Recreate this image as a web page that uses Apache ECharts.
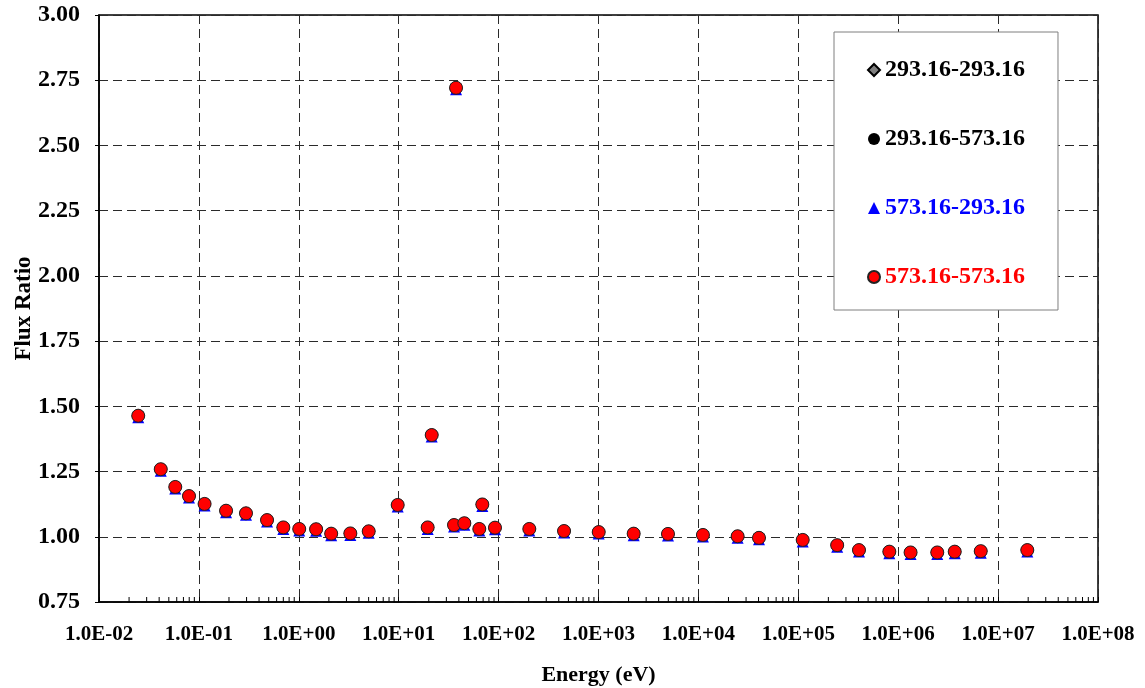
<!DOCTYPE html>
<html>
<head>
<meta charset="utf-8">
<title>Flux Ratio vs Energy</title>
<script src="https://cdn.jsdelivr.net/npm/echarts@6/dist/echarts.min.js"></script>
<style>
  html, body { margin: 0; padding: 0; background: #fff; }
  #chart { width: 1145px; height: 688px; }
</style>
</head>
<body>
<div id="chart"></div>
<script>
// Neutron energy points (eV)
const energy = [
  0.0247, 0.0415, 0.058, 0.0796, 0.114, 0.187, 0.296, 0.481, 0.70, 1.01,
  1.49, 2.11, 3.28, 5.01, 9.77, 19.5, 21.4, 35.8, 37.5, 45.4,
  64.1, 68.7, 92, 203, 452, 1005, 2250, 4960, 11100, 24700,
  40400, 110700, 245000, 405000, 815000, 1.33e6, 2.46e6, 3.68e6, 6.70e6, 1.96e7
];

// Flux ratio for each temperature combination (the four sets coincide at this scale)
const ratio_293_293 = [
  1.464, 1.259, 1.191, 1.156, 1.126, 1.100, 1.090, 1.064, 1.036, 1.030,
  1.029, 1.012, 1.013, 1.021, 1.122, 1.036, 1.390, 1.045, 2.721, 1.052,
  1.030, 1.124, 1.035, 1.030, 1.022, 1.018, 1.012, 1.011, 1.007, 1.002,
  0.996, 0.988, 0.968, 0.949, 0.943, 0.940, 0.940, 0.943, 0.945, 0.949
];
const ratio_293_573 = ratio_293_293.slice();
const ratio_573_293 = ratio_293_293.slice();
const ratio_573_573 = ratio_293_293.slice();

const seriesNames = ['293.16-293.16', '293.16-573.16', '573.16-293.16', '573.16-573.16'];

// Minor tick mantissas within each decade of the energy axis
const minorMantissas = [2, 3, 4, 5, 6, 7, 8, 9];
const decadeExponents = [-2, -1, 0, 1, 2, 3, 4, 5, 6, 7];

const FONT = '"Liberation Serif", "Times New Roman", serif';

function pairs(xs, ys) {
  return xs.map((x, i) => [x, ys[i]]);
}

const minorTicks = [];
decadeExponents.forEach(e => minorMantissas.forEach(m => minorTicks.push([m * Math.pow(10, e), 0.75])));

function sciLabel(v) {
  const e = Math.round(Math.log10(v));
  const a = Math.abs(e);
  return '1.0E' + (e < 0 ? '-' : '+') + (a < 10 ? '0' + a : String(a));
}

const chart = echarts.init(document.getElementById('chart'), null, { renderer: 'canvas' });

const option = {
  backgroundColor: '#ffffff',
  animation: false,
  textStyle: { fontFamily: FONT },
  grid: {
    left: 99, right: 47, top: 15, bottom: 86,
    outerBoundsMode: 'none',
    containLabel: false,
    show: true, borderColor: '#000', borderWidth: 1.5, backgroundColor: 'transparent'
  },
  xAxis: {
    type: 'log',
    logBase: 10,
    min: 0.01,
    max: 1e8,
    interval: 1,
    name: 'Energy (eV)',
    nameLocation: 'middle',
    nameGap: 62,
    nameMoveOverlap: false,
    nameTextStyle: { fontFamily: FONT, fontWeight: 'bold', fontSize: 22, color: '#000' },
    axisLine: { show: true, lineStyle: { color: '#000', width: 1.5 } },
    axisTick: { show: true, inside: true, length: 5, lineStyle: { color: '#000', width: 1 } },
    axisLabel: {
      formatter: sciLabel,
      fontFamily: FONT, fontWeight: 'bold', fontSize: 21, color: '#000', margin: 22
    },
    splitLine: { show: true, lineStyle: { color: '#2a2a2a', type: [9, 5], width: 1 } }
  },
  yAxis: {
    type: 'value',
    min: 0.75,
    max: 3.0,
    interval: 0.25,
    name: 'Flux Ratio',
    nameLocation: 'middle',
    nameGap: 63,
    nameRotate: 90,
    nameMoveOverlap: false,
    nameTextStyle: { fontFamily: FONT, fontWeight: 'bold', fontSize: 23, color: '#000' },
    axisLine: { show: true, lineStyle: { color: '#000', width: 1.5 } },
    axisTick: { show: true, inside: false, length: 4, lineStyle: { color: '#000', width: 1 } },
    axisLabel: {
      formatter: v => v.toFixed(2),
      fontFamily: FONT, fontWeight: 'bold', fontSize: 24, color: '#000', margin: 19
    },
    splitLine: { show: true, lineStyle: { color: '#2a2a2a', type: [9, 5], width: 1 } }
  },
  legend: {
    orient: 'vertical',
    left: 834,
    top: 32,
    padding: [26, 33, 21, 33],
    itemGap: 45,
    itemWidth: 12,
    itemHeight: 12,
    backgroundColor: '#fff',
    borderColor: '#7f7f7f',
    borderWidth: 1,
    textStyle: { fontFamily: FONT, fontWeight: 'bold', fontSize: 24 },
    data: [
      { name: seriesNames[0], icon: 'diamond', textStyle: { color: '#000' } },
      { name: seriesNames[1], icon: 'circle', textStyle: { color: '#000' } },
      { name: seriesNames[2], icon: 'triangle', textStyle: { color: '#0000ff' } },
      { name: seriesNames[3], icon: 'circle', textStyle: { color: '#ff0000' } }
    ]
  },
  series: [
    {
      name: seriesNames[0],
      type: 'scatter',
      symbol: 'diamond',
      symbolSize: 12,
      itemStyle: { color: '#808080', borderColor: '#000', borderWidth: 1, opacity: 1 },
      data: pairs(energy, ratio_293_293)
    },
    {
      name: seriesNames[1],
      type: 'scatter',
      symbol: 'circle',
      symbolSize: 13,
      itemStyle: { color: '#000', opacity: 1 },
      data: pairs(energy, ratio_293_573)
    },
    {
      name: seriesNames[2],
      type: 'scatter',
      symbol: 'triangle',
      symbolSize: 12,
      symbolOffset: [0, 1.5],
      itemStyle: { color: '#0000ff', opacity: 1 },
      data: pairs(energy, ratio_573_293)
    },
    {
      name: seriesNames[3],
      type: 'scatter',
      symbol: 'circle',
      symbolSize: 13,
      itemStyle: { color: '#ff0000', borderColor: '#222', borderWidth: 1, opacity: 1 },
      data: pairs(energy, ratio_573_573)
    },
    {
      // minor ticks along the energy axis (2..9 within each decade)
      name: 'minorTicks',
      type: 'custom',
      silent: true,
      clip: false,
      z: 5,
      data: minorTicks,
      renderItem: function (params, api) {
        const p = api.coord([api.value(0), api.value(1)]);
        return {
          type: 'line',
          shape: { x1: p[0], y1: p[1], x2: p[0], y2: p[1] - 5 },
          style: { stroke: '#000', lineWidth: 1 }
        };
      }
    }
  ]
};

chart.setOption(option);
</script>
</body>
</html>
